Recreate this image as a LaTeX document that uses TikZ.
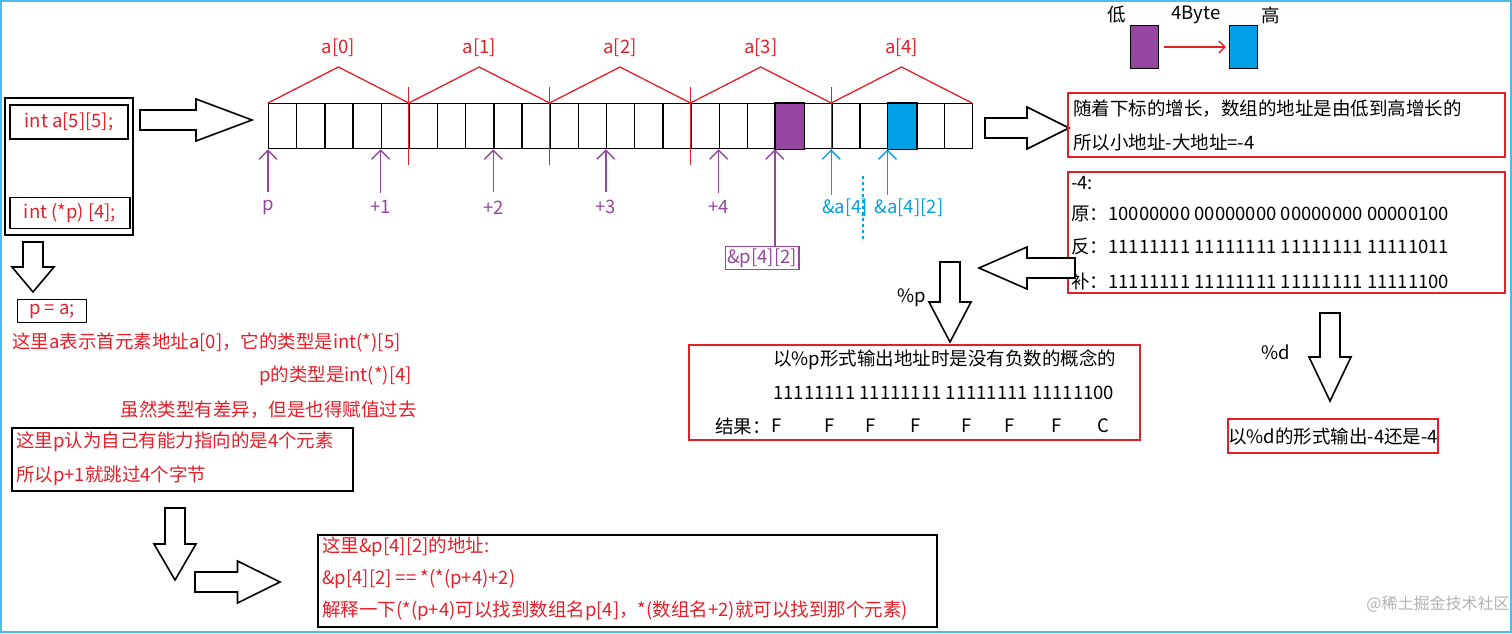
\documentclass[tikz,border=0pt]{standalone}
\usepackage{fontspec}
\setmainfont{Noto Sans CJK SC}
\usetikzlibrary{arrows.meta}
\definecolor{myred}{RGB}{230,30,40}
\definecolor{mypur}{RGB}{150,70,160}
\definecolor{myblue}{RGB}{0,160,230}
\newcommand\myblockarrow[4]{\begin{scope}[shift={(#1,#2)},rotate=#3]
  \draw[line width=1.6pt, fill=white] (0,-10)--({#4/2},-10)--({#4/2},-21)--(#4,0)--({#4/2},21)--({#4/2},10)--(0,10)--cycle;
\end{scope}}
\begin{document}
\begin{tikzpicture}[x=1pt,y=-1pt,
  txt/.style={font=\fontsize{18.5}{20}\selectfont, inner sep=0pt},
  rt/.style={txt, text=myred},
  bx/.style={draw, line width=1.6pt},
  rbx/.style={draw=myred, line width=1.6pt},
  parr/.style={mypur, line width=1.4pt, -{Straight Barb[length=9pt,width=18pt]}},
  carr/.style={myblue, line width=1.4pt, -{Straight Barb[length=9pt,width=18pt]}}]
\useasboundingbox (0,0) rectangle (1512,633);
\draw[myblue!70, line width=2pt] (1,1) rectangle (1511,632);
% legend
\node[txt] (lo) at (1117,15) {低};
\node[txt] (fb) at (1196,15) {4Byte};
\node[txt] (hi) at (1271,15) {高};
\node[draw, fill=mypur, minimum width=28pt, minimum height=43pt, inner sep=0pt] (pl) at (1144,47) {};
\node[draw, fill=myblue, minimum width=28pt, minimum height=43pt, inner sep=0pt] (bl) at (1243,47) {};
\draw[myred, line width=1.4pt, -{Straight Barb[length=6pt,width=12pt]}] ([xshift=6pt]pl.east) -- ([xshift=-3pt]bl.west);
% array
\foreach \i in {0,...,24}{
  \pgfmathsetmacro\xa{268+\i*28.16}
  \node[draw, line width=1.3pt, minimum width=28.16pt, minimum height=45pt, inner sep=0pt, anchor=north west] (c\i) at (\xa,103) {};
}
\fill[mypur, draw=black, line width=1.3pt] (c18.north west) rectangle (c18.south east);
\fill[myblue, draw=black, line width=1.3pt] (c22.north west) rectangle (c22.south east);
\foreach \k/\l in {0/a[0],1/a[1],2/a[2],3/a[3],4/a[4]}{
  \pgfmathsetmacro\xs{268+\k*140.8}
  \pgfmathsetmacro\xm{\xs+70.4}
  \pgfmathsetmacro\xe{\xs+140.8}
  \draw[myred, line width=1.3pt] (\xs,103) -- (\xm,67) -- (\xe,103);
  \node[rt] (lab\k) at (\xm,48) {\l};
}
\foreach \k in {1,2,3,4}{
  \pgfmathsetmacro\xs{268+\k*140.8}
  \draw[myred, line width=1.3pt] (\xs,87) -- (\xs,165);
}
% purple arrows
\foreach \n/\i/\t in {pp/0/p, p1/4/+1, p2/8/+2, p3/12/+3, p4/16/+4}{
  \node[txt, text=mypur] (\n) at ([yshift=-58pt]c\i.south west) {\t};
  \draw[parr] ([yshift=8pt]\n.north) -- (c\i.south west);
}
\node[draw=mypur, line width=1.4pt, text=mypur, font=\fontsize{18.5}{20}\selectfont, inner sep=2pt] (pq) at (762,258) {\&p[4][2]};
\draw[parr] (pq.north -| c18.south west) -- (c18.south west);
\node[txt, text=myblue] (a4) at (845,208) {\&a[4]};
\node[txt, text=myblue] (a42) at (909,208) {\&a[4][2]};
\draw[carr] ([yshift=4pt]a4.north -| c20.south west) -- (c20.south west);
\draw[carr] ([yshift=4pt]a42.north -| c22.south west) -- (c22.south west);
\coordinate (d1) at (863,176); \coordinate (d2) at (863,242);
\draw[myblue, line width=1.4pt, dashed] (d1) -- (d2);
% left boxes
\draw[bx] (5,98) rectangle (133,235);
\node[bx, rt, minimum width=118pt, minimum height=34pt] (ia) at (69,122) {int a[5][5];};
\node[bx, rt, minimum width=120pt, minimum height=31pt] (ip) at (70,213) {int (*p) [4];};
\myblockarrow{140}{120}{0}{112}
\myblockarrow{33}{242}{-90}{50}
\node[bx, rt, minimum width=69pt, minimum height=23pt] (pa) at (52,311) {p = a;};
\node[rt, anchor=west] (t1) at (12,342) {这里a表示首元素地址a[0]，它的类型是int(*)[5]};
\node[rt, anchor=east] (t2) at (412,376) {p的类型是int(*)[4]};
\node[rt, anchor=east] (t3) at (417,410) {虽然类型有差异，但是也得赋值过去};
\draw[bx] (12,428) rectangle (353,491);
\node[rt, anchor=west] (t4) at (16,442) {这里p认为自己有能力指向的是4个元素};
\node[rt, anchor=west] (t5) at (16,476) {所以p+1就跳过4个字节};
\myblockarrow{175}{508}{-90}{72}
\myblockarrow{195}{582}{0}{85}
\draw[bx] (318,535) rectangle (937,627);
\node[rt, anchor=west] (b1) at (322,547) {这里\&p[4][2]的地址:};
\node[rt, anchor=west] (b2) at (322,579) {\&p[4][2] == *(*(p+4)+2)};
\node[rt, anchor=west] (b3) at (322,611) {解释一下(*(p+4)可以找到数组名p[4]，*(数组名+2)就可以找到那个元素)};
% right side
\myblockarrow{985}{128}{0}{84}
\draw[rbx] (1068,93) rectangle (1505,157);
\node[txt, anchor=west] (r1) at (1073,109) {随着下标的增长，数组的地址是由低到高增长的};
\node[txt, anchor=west] (r2) at (1073,143) {所以小地址-大地址=-4};
\draw[rbx] (1068,172) rectangle (1505,293);
\node[txt, anchor=west] (s0) at (1071,183) {-4:};
\node[txt, anchor=west] (s1) at (1071,214) {原：10000000 00000000 00000000 00000100};
\node[txt, anchor=west] (s2) at (1071,247) {反：11111111 11111111 11111111 11111011};
\node[txt, anchor=west] (s3) at (1071,281) {补：11111111 11111111 11111111 11111100};
\myblockarrow{1075}{268}{180}{96}
\node[txt] (pp2) at (912,298) {\%p};
\myblockarrow{950}{262}{-90}{80}
\draw[rbx] (689,345) rectangle (1140,440);
\node[txt, anchor=west] (q1) at (773,360) {以\%p形式输出地址时是没有负数的概念的};
\node[txt, anchor=west] (q2) at (773,393) {11111111 11111111 11111111 11111100};
\node[txt, anchor=west] (q3) at (715,426) {结果：};
\foreach \x/\c in {777/F,830/F,871/F,916/F,967/F,1010/F,1057/F,1103/C}{
  \node[txt] at (\x,426) {\c};
}
\node[txt] (pd) at (1276,352) {\%d};
\myblockarrow{1330}{313}{-90}{88}
\node[rbx, txt, minimum width=208pt, minimum height=34pt] (dres) at (1333,436) {以\%d的形式输出-4还是-4};
\node[txt, text=gray!60, font=\fontsize{16}{18}\selectfont] (wm) at (1438,604) {@稀土掘金技术社区};
\end{tikzpicture}
\end{document}
